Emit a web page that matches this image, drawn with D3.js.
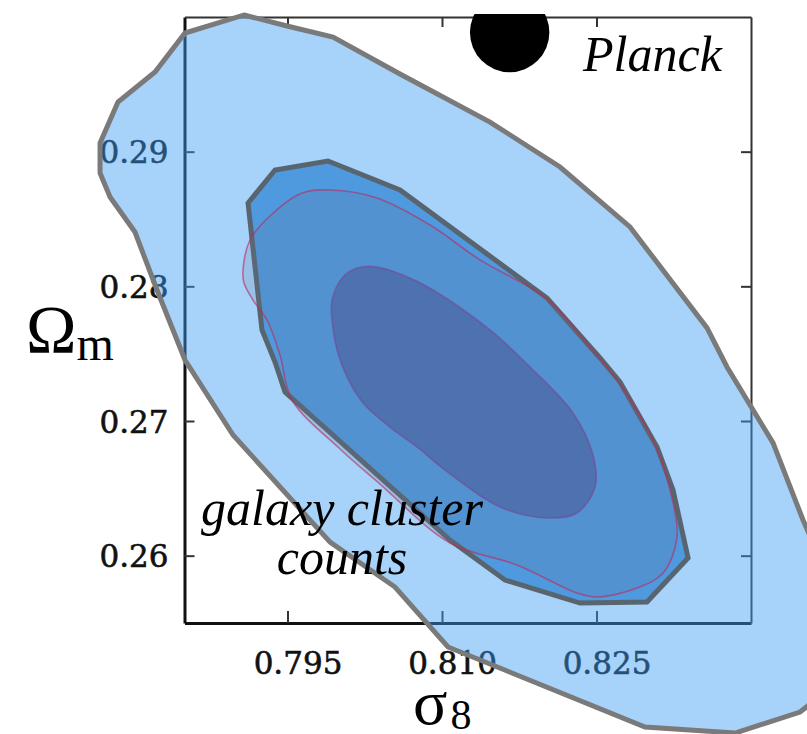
<!DOCTYPE html>
<html>
<head>
<meta charset="utf-8">
<script src="https://cdn.jsdelivr.net/npm/d3@7"></script>
<style>
  html, body { margin: 0; padding: 0; background: #ffffff; }
  svg { display: block; }
</style>
</head>
<body>
<svg id="chart" width="807" height="734"></svg>
<script>
// Axis ticks
const xTicks = [0.795, 0.810, 0.825];
const xTickLabels = ["0.795", "0.810", "0.825"];
const yTicks = [0.26, 0.27, 0.28, 0.29];
const yTickLabels = ["0.26", "0.27", "0.28", "0.29"];

// Broad constraint (light blue, grey outline)
const broadSigma8 = [0.79078, 0.79495, 0.79942, 0.80592, 0.81466, 0.82146, 0.82825, 0.83573, 0.83767, 0.84214,
  0.84505, 0.84719, 0.84767, 0.84622, 0.84476, 0.83845, 0.82971, 0.81058, 0.80544,
  0.79913, 0.78971, 0.78505, 0.78233, 0.78019, 0.77777, 0.77680, 0.77680, 0.77854,
  0.78214, 0.78505];
const broadOmegaM = [0.30015, 0.29933, 0.29851, 0.29577, 0.29220, 0.28886, 0.28441, 0.27691, 0.27401, 0.26837,
  0.26265, 0.25893, 0.25299, 0.24928, 0.24839, 0.24683, 0.24728, 0.25322, 0.25767,
  0.26101, 0.26896, 0.27453, 0.27973, 0.28403, 0.28663, 0.28842, 0.29064, 0.29369,
  0.29592, 0.29881];

// Cluster-count 2-sigma region (dark outline)
const clusterSigma8 = [0.79117, 0.79379, 0.79893, 0.80592, 0.82020, 0.82534, 0.82728, 0.83088, 0.83243, 0.83389,
  0.82990, 0.82340, 0.81612, 0.81078, 0.79476, 0.79379, 0.79252];
const clusterOmegaM = [0.28619, 0.28864, 0.28931, 0.28715, 0.27913, 0.27468, 0.27290, 0.26807, 0.26488, 0.25983,
  0.25656, 0.25648, 0.25819, 0.26116, 0.27215, 0.27438, 0.27676];

// Second chain, outer level (thin red outline)
const altOuterSigma8 = [0.79068, 0.79136, 0.79330, 0.79641, 0.79913, 0.80369, 0.80884, 0.81369, 0.82020, 0.82466,
  0.82728, 0.83088, 0.83214, 0.83282, 0.83146, 0.82893, 0.82505, 0.82311, 0.81728, 0.81078,
  0.80398, 0.80010, 0.79544, 0.79427, 0.79301, 0.79165, 0.79078];
const altOuterOmegaM = [0.28121, 0.28344, 0.28522, 0.28693, 0.28715, 0.28656, 0.28455, 0.28196, 0.27906, 0.27520,
  0.27275, 0.26792, 0.26488, 0.26139, 0.25871, 0.25760, 0.25693, 0.25723, 0.25931, 0.26094,
  0.26532, 0.26792, 0.27156, 0.27490, 0.27750, 0.27898, 0.28025];

// Second chain, inner level
const altInnerSigma8 = [0.79932, 0.80039, 0.80175, 0.80369, 0.80621, 0.80913, 0.81466, 0.81855, 0.82272, 0.82466,
  0.82486, 0.82311, 0.82020, 0.81563, 0.81029, 0.80757, 0.80495, 0.80233, 0.80078, 0.79981, 0.79932];
const altInnerOmegaM = [0.27898, 0.28069, 0.28136, 0.28144, 0.28084, 0.27973, 0.27676, 0.27401, 0.27059, 0.26747,
  0.26510, 0.26317, 0.26280, 0.26361, 0.26636, 0.26807, 0.26955, 0.27134, 0.27327, 0.27527, 0.27750];

// Planck best fit
const planckSigma8 = [0.81657];
const planckOmegaM = [0.29885];

const svg = d3.select("#chart");
const x = d3.scaleLinear().domain([0.785, 0.840]).range([184.5, 751]);
const y = d3.scaleLinear().domain([0.255, 0.300]).range([623, 17]);

const zip = (xs, ys) => xs.map((v, i) => [v, ys[i]]);
const lineLin = d3.line().x(d => x(d[0])).y(d => y(d[1])).curve(d3.curveLinearClosed);
const lineSmooth = d3.line().x(d => x(d[0])).y(d => y(d[1])).curve(d3.curveCatmullRomClosed.alpha(0.5));

// ---- axes (frame with inward ticks) ----
const axisG = svg.append("g");
const fmtX = (d, i) => xTickLabels[i];
const fmtY = (d, i) => yTickLabels[i];

const gBottom = axisG.append("g").attr("transform", `translate(0,${y(0.255)})`)
  .call(d3.axisBottom(x).tickValues(xTicks).tickFormat(fmtX).tickSizeInner(-12).tickSizeOuter(0).tickPadding(29));
const gLeft = axisG.append("g").attr("transform", `translate(${x(0.785)},0)`)
  .call(d3.axisLeft(y).tickValues(yTicks).tickFormat(fmtY).tickSizeInner(-10).tickSizeOuter(0).tickPadding(16));
const gTop = axisG.append("g").attr("transform", `translate(0,${y(0.300)})`)
  .call(d3.axisTop(x).tickValues(xTicks).tickFormat("").tickSizeInner(-10).tickSizeOuter(0));
const gRight = axisG.append("g").attr("transform", `translate(${x(0.840)},0)`)
  .call(d3.axisRight(y).tickValues(yTicks).tickFormat("").tickSizeInner(-10).tickSizeOuter(0));

[gBottom, gLeft].forEach(g => g.select(".domain").attr("stroke", "#111").attr("stroke-width", 3));
[gTop, gRight].forEach(g => g.select(".domain").attr("stroke", "#333").attr("stroke-width", 2));
axisG.selectAll(".tick line").attr("stroke", "#333").attr("stroke-width", 2);
axisG.selectAll(".tick text")
  .attr("font-family", "'DejaVu Serif', serif")
  .attr("font-size", 31)
  .attr("fill", "#111")
  .attr("stroke", "#111")
  .attr("stroke-width", 0.6);
gBottom.selectAll(".tick text").attr("dx", 10);
gLeft.selectAll(".tick text").attr("dy", "0.36em");

// ---- contours ----
svg.append("path")
  .attr("d", lineLin(zip(broadSigma8, broadOmegaM)))
  .attr("fill", "rgb(60,155,245)").attr("fill-opacity", 0.45)
  .attr("stroke", "#7a7a7a").attr("stroke-width", 5).attr("stroke-linejoin", "miter");

svg.append("path")
  .attr("d", lineLin(zip(clusterSigma8, clusterOmegaM)))
  .attr("fill", "#4f99df")
  .attr("stroke", "#58656f").attr("stroke-width", 5).attr("stroke-linejoin", "miter");

svg.append("path")
  .attr("d", lineSmooth(zip(altOuterSigma8, altOuterOmegaM)))
  .attr("fill", "rgb(100,120,150)").attr("fill-opacity", 0.2)
  .attr("stroke", "rgb(190,40,90)").attr("stroke-opacity", 0.6).attr("stroke-width", 1.6);

svg.append("path")
  .attr("d", lineSmooth(zip(altInnerSigma8, altInnerOmegaM)))
  .attr("fill", "#4e70ad").attr("fill-opacity", 0.95)
  .attr("stroke", "rgb(120,70,150)").attr("stroke-opacity", 0.6).attr("stroke-width", 1.6);

// ---- Planck point ----
svg.append("clipPath").attr("id", "topclip")
  .append("rect").attr("x", 0).attr("y", 14).attr("width", 807).attr("height", 720);
svg.append("g").attr("clip-path", "url(#topclip)")
  .selectAll("circle").data(zip(planckSigma8, planckOmegaM)).join("circle")
  .attr("cx", d => x(d[0])).attr("cy", d => y(d[1])).attr("r", 39.7).attr("fill", "#000");

// ---- annotations ----
const serif = "'Liberation Serif', 'Times New Roman', serif";
svg.append("text").attr("x", 583).attr("y", 71)
  .attr("font-family", serif).attr("font-style", "italic").attr("font-size", 50).attr("fill", "#000")
  .text("Planck");
svg.append("text").attr("x", 342).attr("y", 525).attr("text-anchor", "middle")
  .attr("font-family", serif).attr("font-style", "italic").attr("font-size", 50).attr("fill", "#000")
  .text("galaxy cluster");
svg.append("text").attr("x", 342).attr("y", 574).attr("text-anchor", "middle")
  .attr("font-family", serif).attr("font-style", "italic").attr("font-size", 50).attr("fill", "#000")
  .text("counts");

// axis titles
const yTitle = svg.append("text").attr("x", 26).attr("y", 352)
  .attr("font-family", serif).attr("fill", "#000");
yTitle.append("tspan").attr("font-size", 68).text("Ω");
yTitle.append("tspan").attr("font-size", 48).attr("dy", 8).text("m");

const xTitle = svg.append("text").attr("x", 413).attr("y", 724)
  .attr("font-family", serif).attr("fill", "#000");
xTitle.append("tspan").attr("font-size", 64).text("σ");
xTitle.append("tspan").attr("font-size", 42).attr("dx", 3).attr("dy", 5).text("8");
</script>
</body>
</html>
